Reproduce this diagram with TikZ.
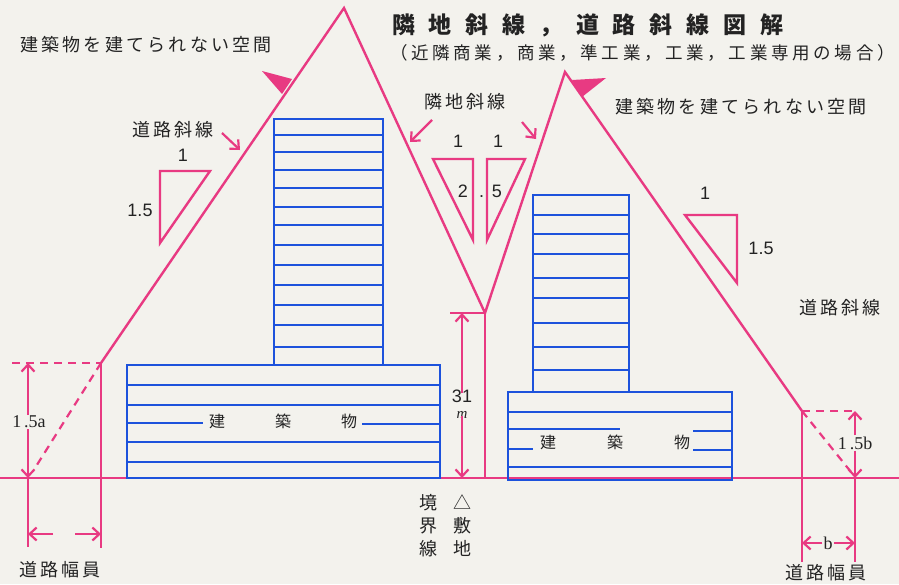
\documentclass[tikz,border=0pt]{standalone}
\usepackage{fontspec}
\usetikzlibrary{arrows.meta}

% fonts
\newfontfamily\jpfont{Noto Sans CJK JP}
\newfontfamily\jpwide{Noto Sans CJK JP}[LetterSpace=18]
\newfontfamily\jpsubfont{Noto Sans CJK JP}[LetterSpace=21]
\newfontfamily\jptitlefont{Noto Sans CJK JP}[LetterSpace=60]
\newfontfamily\digitfont{Liberation Sans}
\newfontfamily\letterfont{Liberation Serif}

% colours
\definecolor{paper}{RGB}{243,242,237}
\definecolor{rose}{RGB}{232,58,130}
\definecolor{bldg}{RGB}{28,82,220}
\definecolor{ink}{RGB}{35,35,35}

\tikzset{
  envelope/.style={rose, line width=2.4pt, line join=miter},
  guide/.style={rose, line width=2.4pt},
  dashguide/.style={rose, line width=2.2pt, dash pattern=on 8pt off 6pt},
  dimarrow/.style={rose, line width=2.2pt, -{Straight Barb[length=7pt,width=13pt]}},
  ratio/.style={rose, line width=2.4pt, line join=miter},
  wedge/.style={fill=rose, draw=none},
  building/.style={bldg, line width=2.8pt},
  floorline/.style={bldg, line width=2.6pt},
  jplabel/.style={ink, font=\jpwide\fontsize{18}{20}\selectfont, inner sep=0pt},
  numlabel/.style={ink, font=\digitfont\fontsize{18}{20}\selectfont, inner sep=1pt},
  bldglabel/.style={ink, font=\jpfont\fontsize{16}{18}\selectfont, inner sep=0pt},
}

\begin{document}
\begin{tikzpicture}[x=1pt, y=-1pt]
  \fill[paper] (0,0) rectangle (899,584);
  \useasboundingbox (0,0) rectangle (899,584);

  % ---------- key points ----------
  \coordinate (gW) at (0,478);
  \coordinate (gE) at (899,478);
  \coordinate (apexL) at (344,8);
  \coordinate (apexR) at (565,72);
  \coordinate (roadL) at (101,363);
  \coordinate (roadR) at (802,411);
  \coordinate (bndTop) at (485,313);
  \coordinate (bndBot) at (485,478);
  \coordinate (tick31) at (450,313);

  % ---------- ground line ----------
  \draw[guide] (gW) -- (gE);

  % ---------- slope envelope ----------
  \draw[envelope] (roadL) -- (apexL) -- (bndTop) -- (apexR) -- (roadR);
  \draw[guide] (bndTop) -- (bndBot);
  \draw[guide] (tick31) -- (bndTop);

  % pointers to the space that cannot be built on
  \fill[wedge] (262,71) -- (292,79) -- (282,94) -- cycle;
  \fill[wedge] (606,78) -- (572,80) -- (582,97) -- cycle;

  % ---------- buildings ----------
  % left lower block
  \draw[building] (127,365) rectangle (440,478);
  \foreach \y in {385,405,442,462} \draw[floorline] (127,\y) -- (440,\y);
  \draw[floorline] (127,423) -- (203,423);
  \draw[floorline] (362,424) -- (440,424);
  % left tower
  \draw[building] (274,119) rectangle (383,365);
  \foreach \y in {135,152,170,188,207,225,245,265,285,305,325,347}
    \draw[floorline] (274,\y) -- (383,\y);
  % right lower block
  \draw[building] (508,392) rectangle (732,480);
  \foreach \y in {412,467} \draw[floorline] (508,\y) -- (732,\y);
  \draw[floorline] (508,429) -- (620,429);
  \draw[floorline] (693,431) -- (732,431);
  \draw[floorline] (508,449) -- (533,449);
  \draw[floorline] (693,450) -- (732,450);
  % right tower
  \draw[building] (533,195) rectangle (629,392);
  \foreach \y in {215,234,254,278,298,323,347,370}
    \draw[floorline] (533,\y) -- (629,\y);

  \node[bldglabel] (bldgL) at (283,421) {建\hspace{50pt}築\hspace{50pt}物};
  \node[bldglabel] (bldgR) at (615,442) {建\hspace{51pt}築\hspace{51pt}物};

  % ---------- left road width ----------
  \coordinate (aTop) at (28,363);
  \coordinate (aBot) at (28,478);
  \coordinate (aLow) at (28,547);
  \coordinate (rLow) at (101,548);
  \coordinate (dashW) at (12,363);
  \coordinate (dashEndL) at (35,468);
  \draw[dashguide] (dashW) -- (roadL);
  \draw[dashguide] (roadL) -- (dashEndL);
  \draw[guide] (roadL) -- (rLow);
  \draw[guide] (aBot) -- (aLow);
  \node[numlabel, font=\letterfont\fontsize{18}{20}\selectfont] (lab15a) at (29,422) {1\,.5a};
  \draw[dimarrow] (lab15a.north -| aTop) -- (aTop);
  \draw[dimarrow] (lab15a.south -| aTop) -- (aBot);
  \coordinate (wA1) at (53,534);
  \coordinate (wA0) at (28,534);
  \coordinate (wB1) at (75,534);
  \coordinate (wB0) at (101,534);
  \draw[dimarrow] (wA1) -- (wA0);
  \draw[dimarrow] (wB1) -- (wB0);
  \node[jplabel] (roadwL) at (60,570) {道路幅員};

  % ---------- right road width ----------
  \coordinate (bTop) at (855,411);
  \coordinate (bBot) at (855,478);
  \coordinate (bLow) at (855,562);
  \coordinate (roadRlow) at (802,562);
  \coordinate (dashEndR) at (851,472);
  \draw[dashguide] (roadR) -- (bTop);
  \draw[dashguide] (roadR) -- (dashEndR);
  \draw[guide] (roadR) -- (roadRlow);
  \draw[guide] (bBot) -- (bLow);
  \node[numlabel, font=\letterfont\fontsize{18}{20}\selectfont] (lab15b) at (855,443) {1\,.5b};
  \draw[dimarrow] (lab15b.north -| bTop) -- (bTop);
  \draw[dimarrow] (lab15b.south -| bTop) -- (bBot);
  \node[numlabel, font=\letterfont\fontsize{18}{20}\selectfont] (labb) at (828,543) {b};
  \draw[dimarrow] (labb.west) -- (roadRlow |- labb.west);
  \draw[dimarrow] (labb.east) -- (bLow |- labb.east);
  \node[jplabel] (roadwR) at (826,573) {道路幅員};

  % ---------- 31 m height ----------
  \coordinate (h31top) at (462,313);
  \coordinate (h31bot) at (462,478);
  \node[numlabel, inner sep=0pt] (lab31) at (462,396) {31};
  \node[ink, font=\letterfont\itshape\fontsize{15}{16}\selectfont, inner sep=0pt] (labm) at (462,415) {m};
  \draw[dimarrow] ([yshift=-4pt]lab31.north) -- (h31top);
  \draw[dimarrow] ([yshift=3pt]labm.south) -- (h31bot);

  \node[jplabel, font=\jpfont\fontsize{18}{23}\selectfont, align=center] (boundary) at (428,526) {境\\界\\線};
  \node[jplabel, font=\jpfont\fontsize{18}{23}\selectfont, align=center] (site) at (462,526) {△\\敷\\地};

  % ---------- ratio triangles ----------
  \draw[ratio] (160,171) -- (210,171) -- (160,243) -- cycle;
  \node[numlabel] (rL1) at (183,155) {1};
  \node[numlabel] (rL15) at (140,210) {1.5};

  \draw[ratio] (433,159) -- (473,159) -- (473,240) -- cycle;
  \draw[ratio] (487,159) -- (525,159) -- (487,240) -- cycle;
  \node[numlabel] (rM1a) at (458,141) {1};
  \node[numlabel] (rM1b) at (498,141) {1};
  \node[numlabel] (rM25) at (480,191) {2\hspace{11pt}.\hspace{8pt}5};

  \draw[ratio] (685,215) -- (737,215) -- (737,283) -- cycle;
  \node[numlabel] (rR1) at (705,193) {1};
  \node[numlabel] (rR15) at (761,248) {1.5};

  % ---------- labels with pointer arrows ----------
  \node[jplabel] (roadSlopeL) at (173,130) {道路斜線};
  \coordinate (pL0) at (222,133);
  \coordinate (pL1) at (240,150);
  \draw[dimarrow] (pL0) -- (pL1);

  \node[jplabel] (adjSlope) at (465,102) {隣地斜線};
  \coordinate (pA0) at (432,120);
  \coordinate (pA1) at (410,142);
  \coordinate (pB0) at (522,122);
  \coordinate (pB1) at (536,139);
  \draw[dimarrow] (pA0) -- (pA1);
  \draw[dimarrow] (pB0) -- (pB1);

  \node[jplabel] (roadSlopeR) at (840,308) {道路斜線};

  \node[jplabel] (noBuildL) at (146,45) {建築物を建てられない空間};
  \node[jplabel] (noBuildR) at (741,107) {建築物を建てられない空間};

  % ---------- title ----------
  \node[ink, anchor=west, inner sep=0pt, font=\jptitlefont\bfseries\fontsize{23}{26}\selectfont] (title) at (392,25) {隣地斜線，道路斜線図解};
  \node[ink, anchor=west, inner sep=0pt, font=\jpsubfont\fontsize{17.5}{20}\selectfont] (subtitle) at (390,53) {（近隣商業，商業，準工業，工業，工業専用の場合）};
\end{tikzpicture}
\end{document}
